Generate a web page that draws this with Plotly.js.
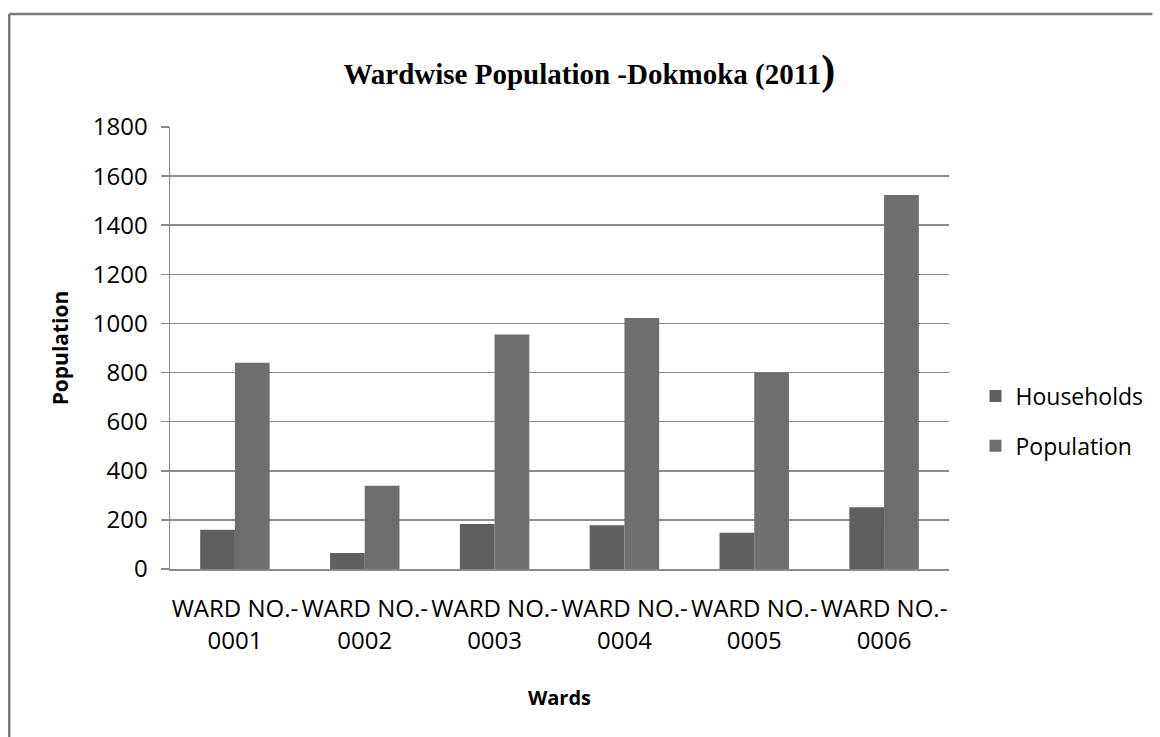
<!DOCTYPE html>
<html>
<head>
<meta charset="utf-8">
<script src="https://cdn.plot.ly/plotly-3.0.1.min.js"></script>
<style>
html,body{margin:0;padding:0;background:#fff;}
#chart{width:1160px;height:737px;}
</style>
</head>
<body>
<div id="chart"></div>
<script>
const wards = ["WARD NO.-<br>0001","WARD NO.-<br>0002","WARD NO.-<br>0003","WARD NO.-<br>0004","WARD NO.-<br>0005","WARD NO.-<br>0006"];
const households = [160, 65, 183, 178, 148, 251];
const population = [840, 339, 955, 1022, 800, 1523];
const yTicks = [0,200,400,600,800,1000,1200,1400,1600,1800];

const font = "Open Sans, Liberation Sans, sans-serif";
const data = [
  {type:"bar", name:"Households", x:wards, y:households, marker:{color:"#5f5f5f"}, legendgroup:"a"},
  {type:"bar", name:"Population", x:wards, y:population, marker:{color:"#6e6e6e"}, legendgroup:"b"}
];

const L = 170, R = 955, T = 127, B = 569;
const px = v => (v - L) / (R - L);
const py = v => (B - v) / (B - T);

const layout = {
  width:1160, height:737,
  margin:{l:L, r:1160-R, t:T, b:737-B, pad:0},
  paper_bgcolor:"#ffffff", plot_bgcolor:"#ffffff",
  font:{family:font, size:23, color:"#000"},
  title:{text:"Wardwise Population -Dokmoka (2011<span style='font-size:42px'>)</span>",
    font:{family:"Liberation Serif, Times New Roman, serif", size:29, color:"#000", weight:"bold"},
    x:0.508, xanchor:"center", xref:"container", y:0.9, yanchor:"middle", yref:"container"},
  barmode:"group", bargap:0.465, bargroupgap:0,
  showlegend:true,
  legend:{x:1.034, xanchor:"left", y:0.335, yanchor:"middle", font:{family:font, size:23, color:"#000"},
    tracegroupgap:17, itemwidth:30, bgcolor:"rgba(0,0,0,0)"},
  xaxis:{type:"category", showgrid:false, showline:true, linecolor:"#8a8a8a", linewidth:1.5,
    ticks:"", tickfont:{family:font, size:24, color:"#000"}, ticklabelstandoff:18,
    title:{text:"Wards", font:{family:font, size:20, color:"#000", weight:"bold"}, standoff:36}},
  yaxis:{range:[0,1800], tickvals:yTicks, ticktext:yTicks.map(String), showgrid:true, gridcolor:"#8c8c8c", gridwidth:1.5,
    showline:true, linecolor:"#8a8a8a", linewidth:1.5, ticks:"outside", ticklen:8, tickcolor:"#8a8a8a", tickwidth:1.5,
    zeroline:false, tickfont:{family:font, size:24, color:"#000"}, ticklabelstandoff:8,
    title:{text:"Population", font:{family:font, size:21, color:"#000", weight:"bold"}, standoff:18}},
  shapes:[
    {type:"line", xref:"paper", yref:"paper", x0:px(8), x1:px(8), y0:py(14), y1:py(737), line:{color:"#7a7a7a", width:2.5}},
    {type:"line", xref:"paper", yref:"paper", x0:px(8), x1:px(1160), y0:py(14), y1:py(14), line:{color:"#7a7a7a", width:2.5}}
  ]
};
Plotly.newPlot("chart", data, layout, {displayModeBar:false, staticPlot:true});
</script>
</body>
</html>
